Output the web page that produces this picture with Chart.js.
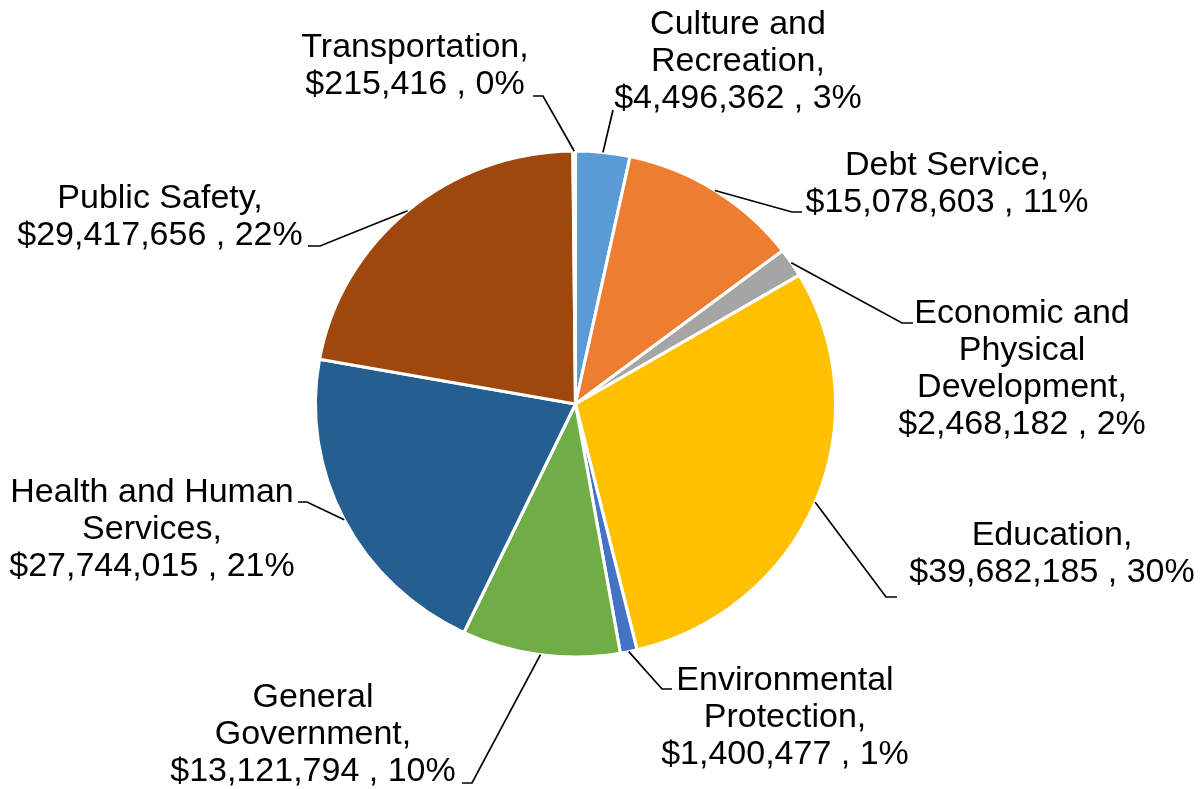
<!DOCTYPE html>
<html>
<head>
<meta charset="utf-8">
<script src="https://cdn.jsdelivr.net/npm/chart.js"></script>
<style>
  body { margin: 0; background: #fff; }
  #wrap { width: 1201px; height: 789px; }
</style>
</head>
<body>
<div id="wrap"><canvas id="myChart" width="1201" height="789"></canvas></div>
<script>
const categories = [
  'Culture and\nRecreation',
  'Debt Service',
  'Economic and\nPhysical\nDevelopment',
  'Education',
  'Environmental\nProtection',
  'General\nGovernment',
  'Health and Human\nServices',
  'Public Safety',
  'Transportation'
]
const amounts = [4496362, 15078603, 2468182, 39682185, 1400477, 13121794, 27744015, 29417656, 215416]
const colors = ['#5B9BD5', '#ED7D31', '#A5A5A5', '#FFC000', '#4472C4', '#70AD47', '#255E91', '#9E480E', '#636363']

// label placement: text centre x, first baseline y, leader elbow, end of the short flat piece
const labelSpots = [
  { x: 738, y: 34, elbow: [613, 110], end: null },
  { x: 947, y: 175, elbow: [792, 212], end: 802 },
  { x: 1022, y: 323, elbow: [902, 323], end: 913 },
  { x: 1052, y: 545, elbow: [886, 597], end: 897 },
  { x: 785, y: 690, elbow: [662, 689], end: 672 },
  { x: 313, y: 707, elbow: [472, 783], end: 462 },
  { x: 152, y: 502, elbow: [307, 502], end: 298 },
  { x: 160, y: 208, elbow: [320, 246], end: 308 },
  { x: 415, y: 57, elbow: [543, 96], end: 533 }
]

const stretchX = 1.028
const lineHeight = 37

const total = amounts.reduce((a, b) => a + b, 0)

const labelLines = (i) => {
  const name = categories[i].split('\n')
  name[name.length - 1] += ','
  const pct = Math.round(amounts[i] / total * 100)
  return [...name, `$${amounts[i].toLocaleString('en-US')} , ${pct}%`]
}

const leaderLabels = {
  id: 'leaderLabels',
  beforeDatasetsDraw(chart) {
    const ctx = chart.ctx
    const c = chart.getDatasetMeta(0).data[0]
    ctx.save()
    ctx.translate(c.x, c.y)
    ctx.scale(stretchX, 1)
    ctx.translate(-c.x, -c.y)
  },
  afterDatasetsDraw(chart) {
    const ctx = chart.ctx
    ctx.restore()

    ctx.save()
    ctx.strokeStyle = '#000'
    ctx.lineWidth = 1.7
    ctx.fillStyle = '#000'
    ctx.font = '34px "Liberation Sans", Arial, sans-serif'
    ctx.textAlign = 'center'
    ctx.textBaseline = 'alphabetic'

    chart.getDatasetMeta(0).data.forEach((arc, i) => {
      const spot = labelSpots[i]
      const mid = (arc.startAngle + arc.endAngle) / 2
      const sx = arc.x + Math.cos(mid) * arc.outerRadius * stretchX
      const sy = arc.y + Math.sin(mid) * arc.outerRadius

      ctx.beginPath()
      ctx.moveTo(sx, sy)
      ctx.lineTo(spot.elbow[0], spot.elbow[1])
      if (spot.end !== null) ctx.lineTo(spot.end, spot.elbow[1])
      ctx.stroke()

      labelLines(i).forEach((line, k) => {
        ctx.fillText(line, spot.x, spot.y + k * lineHeight)
      })
    })
    ctx.restore()
  }
}

const ctx = document.getElementById('myChart')

new Chart(ctx, {
  type: 'pie',
  data: {
    labels: categories,
    datasets: [{
      data: amounts,
      backgroundColor: colors,
      borderColor: '#ffffff',
      borderWidth: 3
    }]
  },
  options: {
    responsive: false,
    animation: false,
    radius: 253,
    layout: { padding: { left: 0, right: 50, top: 19, bottom: 0 } },
    plugins: {
      legend: { display: false },
      tooltip: { enabled: false }
    }
  },
  plugins: [leaderLabels]
})
</script>
</body>
</html>
